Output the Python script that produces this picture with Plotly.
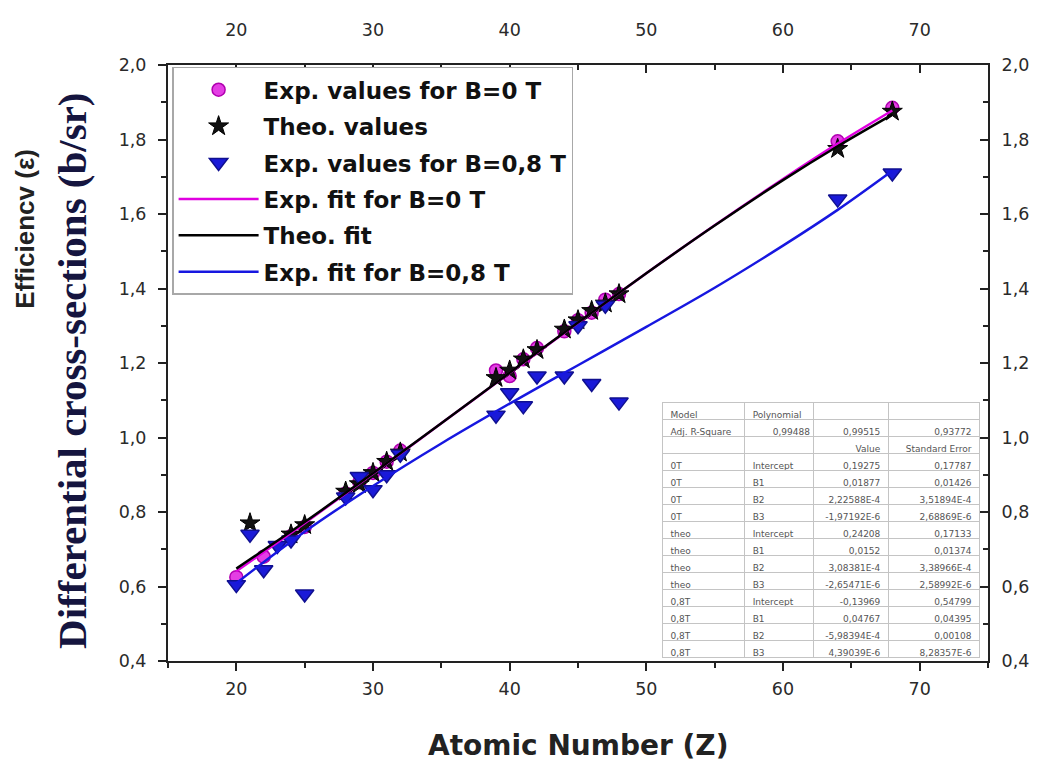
import plotly.graph_objects as go

# ---------------- data ----------------
z_exp0 = [20, 22, 24, 25, 28, 29, 30, 31, 32, 39, 40, 41, 42, 44, 45, 46, 47, 48, 64, 68]
v_exp0 = [0.625, 0.68, 0.735, 0.76, 0.85, 0.88, 0.905, 0.935, 0.965, 1.18, 1.165, 1.21, 1.24,
          1.285, 1.315, 1.335, 1.37, 1.385, 1.795, 1.885]

z_theo = [21, 24, 25, 28, 29, 30, 31, 32, 39, 40, 41, 42, 44, 45, 46, 47, 48, 64, 68]
v_theo = [0.77, 0.74, 0.765, 0.855, 0.875, 0.905, 0.935, 0.96, 1.16, 1.18, 1.21, 1.235,
          1.29, 1.315, 1.34, 1.36, 1.385, 1.775, 1.875]

z_exp08 = [20, 21, 22, 23, 24, 25, 28, 29, 30, 31, 32, 39, 40, 41, 42, 44, 45, 46, 47, 48, 64, 68]
v_exp08 = [0.605, 0.74, 0.645, 0.71, 0.725, 0.58, 0.84, 0.895, 0.86, 0.9, 0.955, 1.06, 1.12,
           1.085, 1.165, 1.165, 1.30, 1.145, 1.355, 1.095, 1.64, 1.71]

fit_z = [20, 25, 30, 35, 40, 45, 50, 55, 60, 64, 68]
fit_exp0 = [0.641, 0.770, 0.903, 1.038, 1.173, 1.308, 1.441, 1.570, 1.694, 1.789, 1.878]
fit_theo = [0.648, 0.773, 0.904, 1.038, 1.174, 1.309, 1.441, 1.569, 1.691, 1.782, 1.867]
fit_exp08 = [0.609, 0.747, 0.870, 0.984, 1.091, 1.194, 1.297, 1.402, 1.515, 1.611, 1.716]

legend_names = ["Exp. values for B=0 T", "Theo. values", "Exp. values for B=0,8 T",
                "Exp. fit for B=0 T", "Theo. fit", "Exp. fit for B=0,8 T"]

# fit-result table
NB = "\u00a0"
tab_header = ["Model", "Polynomial", "", ""]
tab_col1 = ["Adj. R-Square", "", "0T", "0T", "0T", "0T", "theo", "theo", "theo", "theo",
            "0,8T", "0,8T", "0,8T", "0,8T"]
tab_col2 = [NB * 7 + "0,99488", "", "Intercept", "B1", "B2", "B3", "Intercept", "B1", "B2", "B3",
            "Intercept", "B1", "B2", "B3"]
tab_col3 = ["0,99515", "Value", "0,19275", "0,01877", "2,22588E-4", "-1,97192E-6",
            "0,24208", "0,0152", "3,08381E-4", "-2,65471E-6",
            "-0,13969", "0,04767", "-5,98394E-4", "4,39039E-6"]
tab_col4 = ["0,93772", "Standard Error", "0,17787", "0,01426", "3,51894E-4", "2,68869E-6",
            "0,17133", "0,01374", "3,38966E-4", "2,58992E-6",
            "0,54799", "0,04395", "0,00108", "8,28357E-6"]

# ---------------- figure ----------------
SANS = "DejaVu Sans"
fig = go.Figure()

fig.add_trace(go.Scatter(
    x=z_exp0, y=v_exp0, mode="markers", name=legend_names[0], legendgroup="g1",
    marker=dict(symbol="circle", size=13, color="#e43ee4", line=dict(color="#b000b0", width=1.5))))
fig.add_trace(go.Scatter(
    x=z_theo, y=v_theo, mode="markers", name=legend_names[1], legendgroup="g2",
    marker=dict(symbol="star", size=15, color="#111111", line=dict(color="#000000", width=1))))
fig.add_trace(go.Scatter(
    x=z_exp08, y=v_exp08, mode="markers", name=legend_names[2], legendgroup="g3",
    marker=dict(symbol="triangle-down", size=16, color="#1a1ad8", line=dict(color="#101090", width=1.5))))
fig.add_trace(go.Scatter(
    x=fit_z, y=fit_exp0, mode="lines", name=legend_names[3], legendgroup="g4",
    line=dict(color="#e000e0", width=2.5, shape="spline")))
fig.add_trace(go.Scatter(
    x=fit_z, y=fit_theo, mode="lines", name=legend_names[4], legendgroup="g5",
    line=dict(color="#000000", width=2.5, shape="spline")))
fig.add_trace(go.Scatter(
    x=fit_z, y=fit_exp08, mode="lines", name=legend_names[5], legendgroup="g6",
    line=dict(color="#1717e0", width=2.5, shape="spline")))

# invisible trace to activate the top / right axes
fig.add_trace(go.Scatter(
    x=z_theo, y=v_theo, xaxis="x2", yaxis="y2", mode="markers", showlegend=False,
    hoverinfo="skip", marker=dict(opacity=0)))

fig.add_trace(go.Table(
    domain=dict(x=[0.603, 0.99], y=[0.004, 0.433]),
    columnwidth=[83, 69, 76, 92],
    header=dict(values=tab_header, align=["left", "left", "right", "right"], height=17,
                fill=dict(color="white"), line=dict(color="#c4c4c4", width=1),
                font=dict(family=SANS, size=9, color="#555555")),
    cells=dict(values=[tab_col1, tab_col2, tab_col3, tab_col4],
               align=["left", "left", "right", "right"],
               height=17, fill=dict(color="white"), line=dict(color="#c4c4c4", width=1),
               font=dict(family=SANS, size=9, color="#555555"))))

tickfont = dict(family=SANS, size=17.5, color="#2a2a2a")
axcol = "#222222"

# page has an 8px body margin -> figure is shifted by 8px; compensate
fig.update_layout(
    width=1033, height=755,
    margin=dict(l=160, r=48, t=56, b=102),
    paper_bgcolor="white", plot_bgcolor="white",
    separators=",.",
    xaxis=dict(range=[15, 75], dtick=10, tick0=0, ticks="outside", ticklen=8, tickwidth=2,
               tickcolor=axcol, showline=True, linecolor=axcol, linewidth=2, showgrid=False,
               zeroline=False, tickfont=tickfont, ticklabelstandoff=3,
               minor=dict(dtick=5, ticks="outside", ticklen=5, tickwidth=1.5, tickcolor=axcol)),
    xaxis2=dict(range=[15, 75], dtick=10, tick0=0, overlaying="x", side="top", anchor="y",
                ticks="inside", ticklen=8, tickwidth=2, tickcolor=axcol, showline=True,
                linecolor=axcol, linewidth=2, showgrid=False, zeroline=False,
                tickfont=tickfont, ticklabelstandoff=20,
                minor=dict(dtick=5, ticks="inside", ticklen=5, tickwidth=1.5, tickcolor=axcol)),
    yaxis=dict(range=[0.4, 2.0], dtick=0.2, tick0=0, tickformat=".1f", ticks="outside",
               ticklen=8, tickwidth=2, tickcolor=axcol, showline=True, linecolor=axcol,
               linewidth=2, showgrid=False, zeroline=False, tickfont=tickfont,
               ticklabelstandoff=8,
               minor=dict(dtick=0.1, ticks="outside", ticklen=5, tickwidth=1.5, tickcolor=axcol)),
    yaxis2=dict(range=[0.4, 2.0], dtick=0.2, tick0=0, tickformat=".1f", overlaying="y",
                side="right", anchor="x", ticks="inside", ticklen=8, tickwidth=2,
                tickcolor=axcol, showline=True, linecolor=axcol, linewidth=2, showgrid=False,
                zeroline=False, tickfont=tickfont, ticklabelstandoff=8,
                minor=dict(dtick=0.1, ticks="inside", ticklen=5, tickwidth=1.5, tickcolor=axcol)),
    legend=dict(x=0.005, y=0.997, xanchor="left", yanchor="top", bgcolor="white",
                bordercolor="#a8a8a8", borderwidth=1.5, itemwidth=80, tracegroupgap=3.5,
                font=dict(family=SANS, size=23, color="#111111", weight="bold"),
                itemsizing="trace"),
    showlegend=True,
)

fig.add_annotation(text="Atomic Number (Z)", xref="paper", yref="paper", x=0.5, y=-0.141,
                   xanchor="center", yanchor="middle", showarrow=False,
                   font=dict(family=SANS, size=28, color="#222222", weight="bold"))
fig.add_annotation(text="Efficiencv (ε)", xref="paper", yref="paper", x=-0.1745, y=0.725,
                   xanchor="center", yanchor="middle", showarrow=False, textangle=-90,
                   font=dict(family="Liberation Sans", size=26, color="#222222", weight="bold"))
fig.add_annotation(text="Differential cross-sections (b/sr)", xref="paper", yref="paper",
                   x=-0.1164, y=0.486, xanchor="center", yanchor="middle", showarrow=False,
                   textangle=-90,
                   font=dict(family="Liberation Serif", size=41, color="#15153f", weight="bold"))

fig.write_html("out.html")
